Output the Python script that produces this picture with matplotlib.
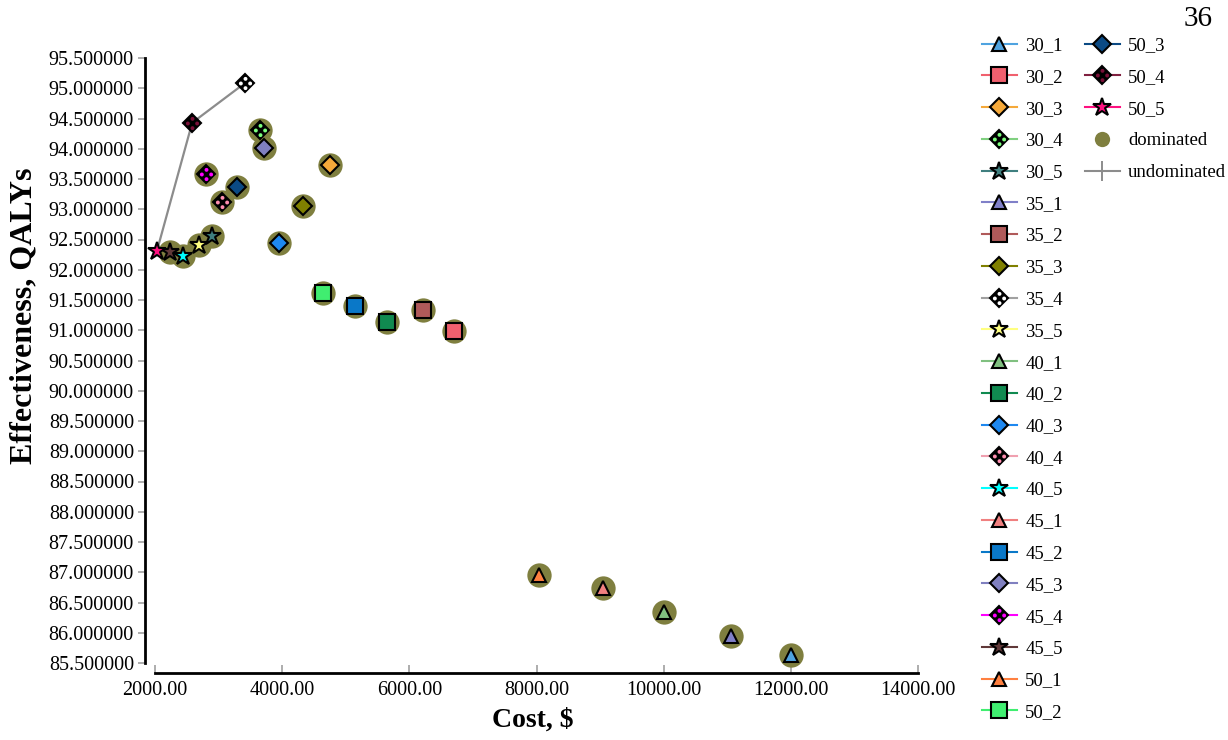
import matplotlib
matplotlib.use("Agg")
import matplotlib.pyplot as plt
from matplotlib.path import Path
from matplotlib.lines import Line2D
from matplotlib.ticker import FormatStrFormatter, MultipleLocator

plt.rcParams['font.family'] = ['Liberation Serif', 'DejaVu Serif']

# strategies (age_threshold _ option)
strategies = ["30_1", "30_2", "30_3", "30_4", "30_5",
              "35_1", "35_2", "35_3", "35_4", "35_5",
              "40_1", "40_2", "40_3", "40_4", "40_5",
              "45_1", "45_2", "45_3", "45_4", "45_5",
              "50_1", "50_2", "50_3", "50_4", "50_5"]
cost = [12000, 6710, 4760, 3655, 2900,
        11060, 6220, 4330, 3420, 2690,
        10010, 5655, 3955, 3055, 2440,
        9040, 5150, 3715, 2805, 2235,
        8035, 4645, 3290, 2585, 2030]
qaly = [85.63, 90.99, 93.73, 94.31, 92.56,
        85.94, 91.33, 93.06, 95.09, 92.41,
        86.35, 91.14, 92.45, 93.12, 92.22,
        86.74, 91.40, 94.02, 93.58, 92.29,
        86.95, 91.61, 93.37, 94.43, 92.31]
undominated = ["50_5", "50_4", "35_4"]

fill = ["#4fa3e0", "#f0606e", "#f5a93a", "#7dff7d", "#3f7f7f",
        "#8080c8", "#b05a5a", "#808000", "#ffffff", "#ffff80",
        "#80c080", "#108a50", "#1e88f0", "#ff8fb0", "#00ffff",
        "#f08080", "#0a78c8", "#8080c0", "#ff00ff", "#603838",
        "#ff8040", "#40ee70", "#0b4a84", "#7a1038", "#ff1080"]
line = ["#4fa3e0", "#f0606e", "#f5a93a", "#80d080", "#3f7f7f",
        "#8080c8", "#b05a5a", "#808000", "#a0a0a0", "#ffff80",
        "#80c080", "#108a50", "#1e88f0", "#f0a0b0", "#00ffff",
        "#f08080", "#0a78c8", "#8080c0", "#ff00ff", "#603838",
        "#ff8040", "#40ee70", "#0b4a84", "#802040", "#ff1080"]

DOM_COLOR = "#7f7f3f"


def dots_marker():
    circles = [Path.circle((cx, cy), 0.42) for cx, cy in [(0, 1), (1, 0), (0, -1), (-1, 0)]]
    return Path.make_compound_path(*circles)


DOTS = dots_marker()
marker_of = {"1": ("^", 10.5), "2": ("s", 11), "3": ("D", 9.5), "4": ("D", 9.5), "5": ("*", 13.5)}

fig = plt.figure(figsize=(12.28, 7.40), dpi=100)
ax = fig.add_axes([155 / 1228, 1 - 663 / 740, (918 - 155) / 1228, (663 - 58) / 740])

# dominated circles behind markers
dom_x = [c for s, c in zip(strategies, cost) if s not in undominated]
dom_y = [q for s, q in zip(strategies, qaly) if s not in undominated]
ax.plot(dom_x, dom_y, "o", ms=17.5, color=DOM_COLOR, mec="none", zorder=2, clip_on=False)

# frontier line
fx = [cost[strategies.index(s)] for s in undominated]
fy = [qaly[strategies.index(s)] for s in undominated]
ax.plot(fx, fy, "-", color="#8c8c8c", lw=1.6, zorder=1, clip_on=False)

handles = {}
for s, x, y, fc, lc in zip(strategies, cost, qaly, fill, line):
    kind = s.split("_")[1]
    m, ms = marker_of[kind]
    if kind == "4":
        h1, = ax.plot([x], [y], marker=m, ms=ms, mfc="black", mec="black", mew=1.5,
                      color=lc, lw=1.5, zorder=3, clip_on=False)
        h2, = ax.plot([x], [y], marker=DOTS, ms=9.5, mfc=fc, mec="none", ls="None",
                      zorder=4, clip_on=False)
        handles[s] = (h1, h2)
    else:
        h, = ax.plot([x], [y], marker=m, ms=ms, mfc=fc, mec="black", mew=1.5,
                     color=lc, lw=1.5, zorder=3, clip_on=False)
        handles[s] = h

ax.set_xlim(2000, 14000)
ax.set_ylim(85.5, 95.5)
ax.xaxis.set_major_locator(MultipleLocator(2000))
ax.yaxis.set_major_locator(MultipleLocator(0.5))
ax.xaxis.set_major_formatter(FormatStrFormatter("%.2f"))
ax.yaxis.set_major_formatter(FormatStrFormatter("%.6f"))

for side in ["top", "right"]:
    ax.spines[side].set_visible(False)
ax.spines["left"].set_position(("outward", 7.2))
ax.spines["bottom"].set_position(("outward", 7.2))
ax.spines["left"].set_bounds(85.5, 95.5)
ax.spines["bottom"].set_bounds(2000, 14000)
for side in ["left", "bottom"]:
    ax.spines[side].set_linewidth(2)

ax.tick_params(axis="y", direction="out", length=5, width=1.2, color="#a0a0a0",
               labelsize=14.5, pad=3)
ax.tick_params(axis="x", direction="in", length=6, width=1.2, color="#a0a0a0",
               labelsize=14.5, pad=6)

fig.text(533 / 1228, 1 - 720 / 740, "Cost, $", fontsize=20, fontweight="bold",
         ha="center", va="center")
fig.text(24 / 1228, 1 - 316 / 740, "Effectiveness, QALYs", fontsize=23, fontweight="bold",
         rotation=90, ha="center", va="center")
fig.text(1198 / 1228, 1 - 19 / 740, "36", fontsize=21, ha="center", va="center")

# legend: first column 22 entries, second column the rest
dom_handle = Line2D([], [], marker="o", ms=11, color=DOM_COLOR, mec="none", ls="None")
und_handle = Line2D([], [], marker="+", ms=14, mew=1.4, color="#8c8c8c", lw=1.5)
col1 = strategies[:22]
col2 = strategies[22:]
leg_kw = dict(frameon=False, fontsize=13.5, handlelength=1.85, handletextpad=0.45,
              labelspacing=0.78, borderpad=0, borderaxespad=0, loc="upper left")
fig.legend([handles[s] for s in col1], col1,
           bbox_to_anchor=(982 / 1228, 1 - 37 / 740), **leg_kw)
fig.legend([handles[s] for s in col2] + [dom_handle, und_handle], col2 + ["dominated", "undominated"],
           bbox_to_anchor=(1085 / 1228, 1 - 37 / 740), **leg_kw)

fig.savefig("out.png", dpi=100)
